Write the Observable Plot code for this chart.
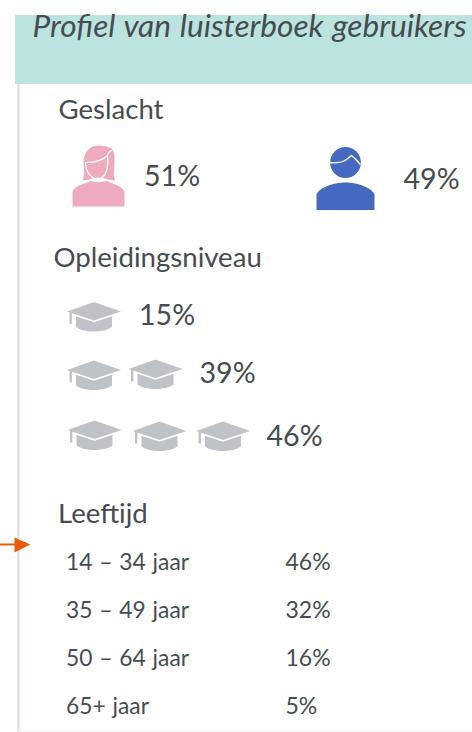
<!DOCTYPE html>
<html><head><meta charset="utf-8">
<script src="https://cdn.jsdelivr.net/npm/d3@7"></script>
<script src="https://cdn.jsdelivr.net/npm/@observablehq/plot@0.6"></script>
<style>html,body{margin:0;padding:0;background:#fff}svg{display:block}svg text{word-spacing:1px}svg .ttl text{word-spacing:1.5px}</style>
</head><body><div id="chart"></div>
<script>
// Data
const title = "Profiel van luisterboek gebruikers";
const sections = ["Geslacht", "Opleidingsniveau", "Leeftijd"];
const genders = ["Vrouw", "Man"];
const genderPct = [51, 49];
const eduLevels = [1, 2, 3];        // number of caps per row
const eduPct = [15, 39, 46];
const ageLabels = ["14 – 34 jaar", "35 – 49 jaar", "50 – 64 jaar", "65+ jaar"];
const agePct = [46, 32, 16, 5];

// Layout (reference-space anchors, kept apart from the data)
const sectionPos = [[58, 118], [53, 266], [57.5, 522]];
const genderIconPos = [[98, 176], [345, 162]];
const genderTextPos = [[143.5, 185], [403, 188]];
const capPos = [
  [[93.5, 312]],
  [[93.5, 370.5], [155, 369.5]],
  [[94, 430.5], [159, 431.5], [222.5, 431.5]]
];
const eduTextPos = [[138.5, 324], [199, 382], [266, 445]];
const ageY = [569, 617, 665, 713];

const ink = "#474c52", pink = "#EFABBE", blue = "#4669C0", grey = "#BFC3C8",
      teal = "#BBE4DF", rule = "#DDE1E7", orange = "#EE5A0E";

const pathSymbol = d => ({draw: d});
const womanFill = pathSymbol(c => {
  // hair
  c.moveTo(-16, 4); c.bezierCurveTo(-13, -3, -15, -8, -15, -14);
  c.bezierCurveTo(-15, -25, -8, -31, 0, -31);
  c.bezierCurveTo(6, -31, 10, -30, 13, -28);
  c.bezierCurveTo(17, -25, 16, -18, 16, -14);
  c.bezierCurveTo(16, -6, 14, 0, 17, 4);
  c.bezierCurveTo(10, 4, 6, 1, 0, 1);
  c.bezierCurveTo(-6, 1, -10, 4, -16, 4); c.closePath();
  // body
  c.moveTo(-26, 30); c.lineTo(-26, 17);
  c.bezierCurveTo(-26, 9, -12, 7, -8, 4.5);
  c.bezierCurveTo(-3, 6, 3, 6, 8, 4.5);
  c.bezierCurveTo(12, 7, 26, 9, 26, 17);
  c.lineTo(26, 30); c.closePath();
});
const womanLine = pathSymbol(c => {
  c.moveTo(-13, -14); c.bezierCurveTo(-5, -14, 4, -16, 9, -21);
  c.bezierCurveTo(10, -12, 9, 2, -1, 3);
  c.bezierCurveTo(-8, 2, -13, -6, -13, -14);
  c.moveTo(9, -21); c.bezierCurveTo(10, -24, 12, -26, 14, -26);
});
const manFill = pathSymbol(c => {
  c.arc(0, 0, 15.4, 0, 2 * Math.PI); c.closePath();
  c.moveTo(-29, 47.5); c.lineTo(-29, 32);
  c.bezierCurveTo(-26, 25, -12, 20, 0, 20);
  c.bezierCurveTo(12, 20, 26, 25, 29, 32);
  c.lineTo(29, 47.5); c.closePath();
});
const manLine = pathSymbol(c => {
  c.moveTo(-17, 0); c.bezierCurveTo(-8, 1, -3, 0, 1, -3);
  c.bezierCurveTo(3, -5, 5, -6, 6, -7);
  c.bezierCurveTo(9, -5, 12, -1, 15, 2);
});
const capSymbol = pathSymbol(c => {
  c.moveTo(-27, -1); c.lineTo(0, -10.5); c.lineTo(27, -1); c.lineTo(0, 8); c.closePath();
  c.moveTo(-18, 3.7); c.lineTo(0, 9.7); c.lineTo(18, 3.7); c.lineTo(18, 14.5);
  c.bezierCurveTo(10, 20.5, -10, 20.5, -18, 14.5); c.closePath();
  c.rect(-24.5, 0, 2.4, 11.5);
});
const arrowHead = pathSymbol(c => {
  c.moveTo(14, 537); c.lineTo(30, 544); c.lineTo(14, 552); c.closePath();
});

const sectionRows = sections.map((s, i) => ({s, x: sectionPos[i][0], y: sectionPos[i][1]}));
const genderRows = genders.map((g, i) => ({g, v: genderPct[i],
  ix: genderIconPos[i][0], iy: genderIconPos[i][1], tx: genderTextPos[i][0], ty: genderTextPos[i][1]}));
const capRows = eduLevels.flatMap((n, i) => d3.range(n).map(j => ({x: capPos[i][j][0], y: capPos[i][j][1]})));
const eduRows = eduPct.map((v, i) => ({v, x: eduTextPos[i][0], y: eduTextPos[i][1]}));
const ageRows = ageLabels.map((a, i) => ({a, v: agePct[i], y: ageY[i]}));
const pct = d => d.v + "%";
const base = {textAnchor: "start", lineAnchor: "bottom", fill: ink};

const plot = Plot.plot({
  width: 472, height: 732, margin: 0,
  x: {type: "identity"}, y: {type: "identity"},
  style: {fontFamily: "Lato", background: "#fff"},
  marks: [
    Plot.rect([{}], {x1: 15, x2: 472, y1: 15, y2: 84, fill: teal}),
    Plot.ruleX([18], {y1: 84, y2: 732, stroke: rule, strokeWidth: 2.4}),
    Plot.ruleY([731], {x1: 18, x2: 472, stroke: "#f1f2f4", strokeWidth: 1}),
    Plot.text([title], {x: 32, y: 36, text: d => d, ...base, fontSize: 31.6, fontStyle: "italic", className: "ttl"}),
    Plot.text(sectionRows, {x: "x", y: "y", text: "s", ...base, fontSize: 27.6}),
    Plot.dot(genderRows.slice(0, 1), {x: "ix", y: "iy", symbol: womanFill, fill: pink, r: 1}),
    Plot.dot(genderRows.slice(0, 1), {x: "ix", y: "iy", symbol: womanLine, stroke: "#fff", fill: "none", strokeWidth: 1.2, r: 1}),
    Plot.dot(genderRows.slice(1), {x: "ix", y: "iy", symbol: manFill, fill: blue, r: 1}),
    Plot.dot(genderRows.slice(1), {x: "ix", y: "iy", symbol: manLine, stroke: "#fff", fill: "none", strokeWidth: 1.4, r: 1}),
    Plot.text(genderRows, {x: "tx", y: "ty", text: pct, ...base, fontSize: 28.6}),
    Plot.dot(capRows, {x: "x", y: "y", symbol: capSymbol, fill: grey, r: 1}),
    Plot.text(eduRows, {x: "x", y: "y", text: pct, ...base, fontSize: 28.6}),
    Plot.text(ageRows, {x: 65.5, y: "y", text: "a", ...base, fontSize: 22.8}),
    Plot.text(ageRows, {x: 285, y: "y", text: pct, ...base, fontSize: 23}),
    Plot.ruleY([544], {x1: 0, x2: 15, stroke: orange, strokeWidth: 2}),
    Plot.dot([{}], {x: 0, y: 0, symbol: arrowHead, fill: orange, r: 1})
  ]
});
document.getElementById("chart").append(plot);
</script></body></html>
